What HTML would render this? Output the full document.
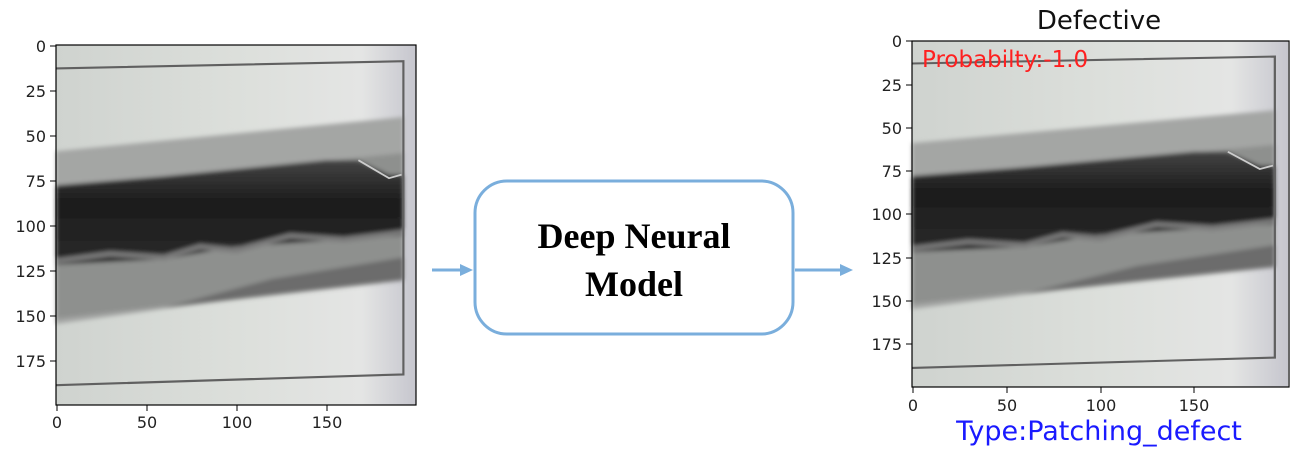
<!DOCTYPE html>
<html><head><style>
body{margin:0;background:#fff;width:1305px;height:457px;overflow:hidden;font-family:"DejaVu Sans","Liberation Sans",sans-serif;}
</style></head><body>
<svg width="1305" height="457" viewBox="0 0 1305 457" xmlns="http://www.w3.org/2000/svg">
<defs>
<linearGradient id="bg" x1="0" x2="1" y1="0" y2="0">
<stop offset="0" stop-color="#cfd3cf"/><stop offset="0.5" stop-color="#dcdfdb"/><stop offset="0.85" stop-color="#e4e5e4"/><stop offset="1" stop-color="#c6c6ce"/></linearGradient>
<linearGradient id="dk" x1="0" x2="0" y1="0" y2="1">
<stop offset="0" stop-color="#444"/><stop offset="0.4" stop-color="#1c1c1c"/><stop offset="1" stop-color="#2a2a2a"/></linearGradient>
<filter id="bl"><feGaussianBlur stdDeviation="1.2"/></filter>
<g id="img">
<rect x="0" y="0" width="200" height="200" fill="url(#bg)"/>
<g filter="url(#bl)">
<polygon points="0,59 193,40 193,128 0,155" fill="#a4a6a4"/>
<polygon points="0,80 193,60 193,130 0,152" fill="#8e908e"/>
<polygon points="120,130 193,118 193,131 60,146" fill="#555" opacity="0.6"/>
<polygon points="0,78 60,73 110,68 150,64 168,64 185,72 193,72 193,106 100,112 60,119 0,122" fill="url(#dk)"/>
<polyline points="0,120 30,116 60,118 80,112 100,114 130,106 160,108 193,104" stroke="#7a7a7a" stroke-width="3" fill="none"/>
</g>
<polyline points="168,64 185,74 192,72" stroke="#ccc" stroke-width="1" fill="none"/>
<polyline points="0,13 193,9 193,183 0,189" stroke="#606060" stroke-width="1.2" fill="none"/>
</g>
</defs>

<!-- left plot -->
<g transform="translate(56,45) scale(1.8)"><use href="#img"/></g>
<rect x="56" y="45" width="360" height="360" fill="none" stroke="#000" stroke-width="1.2"/>
<g font-size="16" fill="#222" text-anchor="end">
<text x="46" y="52">0</text><text x="46" y="97">25</text><text x="46" y="142">50</text><text x="46" y="187">75</text><text x="46" y="232">100</text><text x="46" y="277">125</text><text x="46" y="322">150</text><text x="46" y="367">175</text>
</g>
<g stroke="#000"><line x1="50" x2="56" y1="46" y2="46"/><line x1="50" x2="56" y1="91" y2="91"/><line x1="50" x2="56" y1="136" y2="136"/><line x1="50" x2="56" y1="181" y2="181"/><line x1="50" x2="56" y1="226" y2="226"/><line x1="50" x2="56" y1="271" y2="271"/><line x1="50" x2="56" y1="316" y2="316"/><line x1="50" x2="56" y1="361" y2="361"/>
<line x1="57" x2="57" y1="405" y2="411"/><line x1="147" x2="147" y1="405" y2="411"/><line x1="237" x2="237" y1="405" y2="411"/><line x1="327" x2="327" y1="405" y2="411"/></g>
<g font-size="16" fill="#222" text-anchor="middle"><text x="57" y="428">0</text><text x="147" y="428">50</text><text x="237" y="428">100</text><text x="327" y="428">150</text></g>

<!-- arrows -->
<line x1="432" y1="270" x2="462" y2="270" stroke="#7aaedc" stroke-width="3"/>
<polygon points="460,264 473,270 460,276" fill="#7aaedc"/>
<line x1="795" y1="270" x2="842" y2="270" stroke="#7aaedc" stroke-width="3"/>
<polygon points="840,264 853,270 840,276" fill="#7aaedc"/>

<!-- box -->
<rect x="475" y="181" width="318" height="153" rx="32" fill="#fff" stroke="#7aaedc" stroke-width="3"/>
<text x="634" y="248" font-family="'Liberation Serif',serif" font-weight="bold" font-size="36" text-anchor="middle">Deep Neural</text>
<text x="634" y="296" font-family="'Liberation Serif',serif" font-weight="bold" font-size="36" text-anchor="middle">Model</text>

<!-- right plot -->
<g transform="translate(912,41) scale(1.88,1.73)"><use href="#img"/></g>
<rect x="912" y="41" width="377" height="346" fill="none" stroke="#000" stroke-width="1.2"/>
<text x="1099" y="29" font-size="26" fill="#111" text-anchor="middle">Defective</text>
<text x="922" y="67" font-size="23" fill="#ff2020">Probabilty:-1.0</text>
<g font-size="16" fill="#222" text-anchor="end">
<text x="902" y="47">0</text><text x="902" y="91">25</text><text x="902" y="134">50</text><text x="902" y="177">75</text><text x="902" y="220">100</text><text x="902" y="264">125</text><text x="902" y="307">150</text><text x="902" y="350">175</text>
</g>
<g stroke="#000"><line x1="906" x2="912" y1="41" y2="41"/><line x1="906" x2="912" y1="85" y2="85"/><line x1="906" x2="912" y1="128" y2="128"/><line x1="906" x2="912" y1="171" y2="171"/><line x1="906" x2="912" y1="214" y2="214"/><line x1="906" x2="912" y1="258" y2="258"/><line x1="906" x2="912" y1="301" y2="301"/><line x1="906" x2="912" y1="344" y2="344"/>
<line x1="913" x2="913" y1="387" y2="393"/><line x1="1007" x2="1007" y1="387" y2="393"/><line x1="1101" x2="1101" y1="387" y2="393"/><line x1="1194" x2="1194" y1="387" y2="393"/></g>
<g font-size="16" fill="#222" text-anchor="middle"><text x="913" y="411">0</text><text x="1007" y="411">50</text><text x="1101" y="411">100</text><text x="1194" y="411">150</text></g>
<text x="1099" y="440" font-size="27" fill="#1a1aff" text-anchor="middle">Type:Patching_defect</text>
</svg>
</body></html>
